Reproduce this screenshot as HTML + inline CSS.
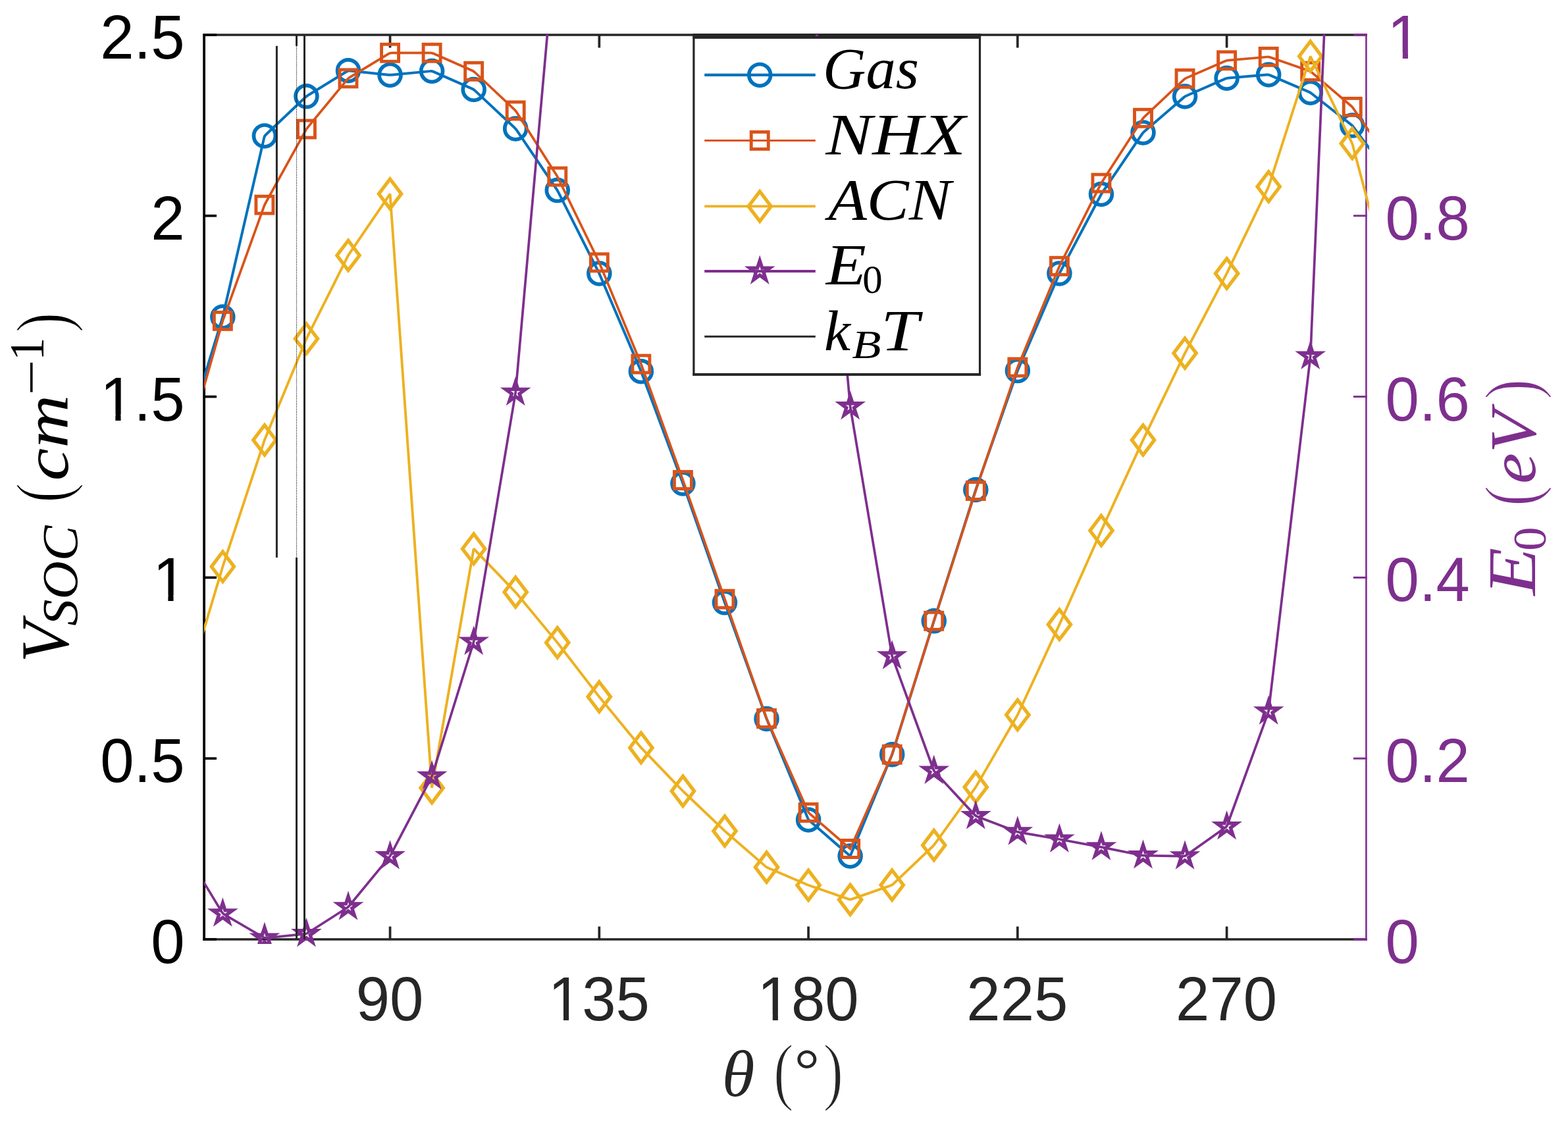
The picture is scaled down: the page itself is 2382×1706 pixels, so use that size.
<!DOCTYPE html>
<html><head><meta charset="utf-8"><title>V_SOC vs theta</title>
<style>
html,body{margin:0;padding:0;background:#fff;}
body{width:2382px;height:1706px;overflow:hidden;}
svg{display:block;}
text{font-family:"Liberation Sans",sans-serif;}
.s{font-family:"Liberation Serif",serif;}
.i{font-family:"Liberation Serif",serif;font-style:italic;}
</style></head><body>
<svg width="2382" height="1706" viewBox="0 0 2382 1706">
<defs><clipPath id="cp"><rect x="309.8" y="51" width="1770.2" height="1390"/></clipPath><clipPath id="cs"><rect x="309.8" y="51" width="1770.2" height="1382.9"/></clipPath></defs>
<rect x="0" y="0" width="2382" height="1706" fill="#fff"/>
<g stroke="#262626" stroke-width="3.70" fill="none">
<line x1="308.20" y1="53.00" x2="2076.70" y2="53.00"/>
<line x1="308.20" y1="1427.00" x2="2076.70" y2="1427.00"/>
<line x1="592.56" y1="1427.00" x2="592.56" y2="1407.50"/>
<line x1="592.56" y1="53.00" x2="592.56" y2="72.50"/>
<line x1="910.32" y1="1427.00" x2="910.32" y2="1407.50"/>
<line x1="910.32" y1="53.00" x2="910.32" y2="72.50"/>
<line x1="1228.08" y1="1427.00" x2="1228.08" y2="1407.50"/>
<line x1="1228.08" y1="53.00" x2="1228.08" y2="72.50"/>
<line x1="1545.84" y1="1427.00" x2="1545.84" y2="1407.50"/>
<line x1="1545.84" y1="53.00" x2="1545.84" y2="72.50"/>
<line x1="1863.61" y1="1427.00" x2="1863.61" y2="1407.50"/>
<line x1="1863.61" y1="53.00" x2="1863.61" y2="72.50"/>
</g>
<g stroke="#000" stroke-width="3.8" fill="none">
<line x1="310.10" y1="51.15" x2="310.10" y2="1428.85"/>
<line x1="310.10" y1="1427.00" x2="329.00" y2="1427.00" stroke-width="3.7"/>
<line x1="310.10" y1="1152.20" x2="329.00" y2="1152.20" stroke-width="3.7"/>
<line x1="310.10" y1="877.40" x2="329.00" y2="877.40" stroke-width="3.7"/>
<line x1="310.10" y1="602.60" x2="329.00" y2="602.60" stroke-width="3.7"/>
<line x1="310.10" y1="327.80" x2="329.00" y2="327.80" stroke-width="3.7"/>
<line x1="310.10" y1="53.00" x2="329.00" y2="53.00" stroke-width="3.7"/>
</g>
<g stroke="#7E2F8E" fill="none">
<line x1="2075.45" y1="51.15" x2="2075.45" y2="1428.85" stroke-width="2.6"/>
<line x1="2056.00" y1="1427.00" x2="2076.70" y2="1427.00" stroke-width="3.7"/>
<line x1="2056.00" y1="1152.20" x2="2076.70" y2="1152.20" stroke-width="3.0"/>
<line x1="2056.00" y1="877.40" x2="2076.70" y2="877.40" stroke-width="3.0"/>
<line x1="2056.00" y1="602.60" x2="2076.70" y2="602.60" stroke-width="3.0"/>
<line x1="2056.00" y1="327.80" x2="2076.70" y2="327.80" stroke-width="3.0"/>
<line x1="2056.00" y1="53.00" x2="2076.70" y2="53.00" stroke-width="3.7"/>
</g>
<g clip-path="url(#cp)">
<path d="M274.79 688.50 L337.61 483.89 Q338.35 481.50 338.91 479.06 L401.34 208.84 Q401.90 206.40 403.71 204.68 L463.63 148.02 Q465.45 146.30 467.58 144.99 L526.87 108.51 Q529.00 107.20 531.49 107.46 L590.07 113.64 Q592.56 113.90 595.04 113.67 L653.62 108.13 Q656.11 107.90 658.40 108.91 L717.37 134.89 Q719.66 135.90 721.49 137.61 L781.39 193.69 Q783.21 195.40 784.62 197.47 L845.36 287.03 Q846.77 289.10 847.89 291.33 L909.20 413.17 Q910.32 415.40 911.30 417.70 L972.89 561.90 Q973.87 564.20 974.75 566.54 L1036.55 732.16 Q1037.42 734.50 1038.25 736.86 L1100.98 915.30 L1163.68 1089.65 Q1164.53 1092.00 1165.49 1094.31 L1227.13 1243.09 Q1228.08 1245.40 1229.97 1247.04 L1291.63 1300.50 L1354.24 1148.51 Q1355.19 1146.20 1355.93 1143.81 L1418.74 943.30 L1481.53 746.38 Q1482.29 744.00 1483.12 741.64 L1545.02 565.46 Q1545.84 563.10 1546.83 560.80 L1608.41 417.70 Q1609.40 415.40 1610.56 413.19 L1671.78 297.21 Q1672.95 295.00 1674.35 292.93 L1735.10 203.47 Q1736.50 201.40 1738.39 199.77 L1798.16 148.13 Q1800.06 146.50 1802.35 145.50 L1861.32 119.70 Q1863.61 118.70 1866.10 118.49 L1924.67 113.61 Q1927.16 113.40 1929.46 114.39 L1988.42 139.71 Q1990.71 140.70 1992.68 142.24 L2052.30 189.06 Q2054.27 190.60 2055.76 192.60 L2117.82 275.60" fill="none" stroke="#0072BD" stroke-width="4.00" stroke-linejoin="miter" stroke-miterlimit="2"/>
<circle cx="338.35" cy="481.50" r="16.4" fill="none" stroke="#0072BD" stroke-width="5.70"/>
<circle cx="401.90" cy="206.40" r="16.4" fill="none" stroke="#0072BD" stroke-width="5.70"/>
<circle cx="465.45" cy="146.30" r="16.4" fill="none" stroke="#0072BD" stroke-width="5.70"/>
<circle cx="529.00" cy="107.20" r="16.4" fill="none" stroke="#0072BD" stroke-width="5.70"/>
<circle cx="592.56" cy="113.90" r="16.4" fill="none" stroke="#0072BD" stroke-width="5.70"/>
<circle cx="656.11" cy="107.90" r="16.4" fill="none" stroke="#0072BD" stroke-width="5.70"/>
<circle cx="719.66" cy="135.90" r="16.4" fill="none" stroke="#0072BD" stroke-width="5.70"/>
<circle cx="783.21" cy="195.40" r="16.4" fill="none" stroke="#0072BD" stroke-width="5.70"/>
<circle cx="846.77" cy="289.10" r="16.4" fill="none" stroke="#0072BD" stroke-width="5.70"/>
<circle cx="910.32" cy="415.40" r="16.4" fill="none" stroke="#0072BD" stroke-width="5.70"/>
<circle cx="973.87" cy="564.20" r="16.4" fill="none" stroke="#0072BD" stroke-width="5.70"/>
<circle cx="1037.42" cy="734.50" r="16.4" fill="none" stroke="#0072BD" stroke-width="5.70"/>
<circle cx="1100.98" cy="915.30" r="16.4" fill="none" stroke="#0072BD" stroke-width="5.70"/>
<circle cx="1164.53" cy="1092.00" r="16.4" fill="none" stroke="#0072BD" stroke-width="5.70"/>
<circle cx="1228.08" cy="1245.40" r="16.4" fill="none" stroke="#0072BD" stroke-width="5.70"/>
<circle cx="1291.63" cy="1300.50" r="16.4" fill="none" stroke="#0072BD" stroke-width="5.70"/>
<circle cx="1355.19" cy="1146.20" r="16.4" fill="none" stroke="#0072BD" stroke-width="5.70"/>
<circle cx="1418.74" cy="943.30" r="16.4" fill="none" stroke="#0072BD" stroke-width="5.70"/>
<circle cx="1482.29" cy="744.00" r="16.4" fill="none" stroke="#0072BD" stroke-width="5.70"/>
<circle cx="1545.84" cy="563.10" r="16.4" fill="none" stroke="#0072BD" stroke-width="5.70"/>
<circle cx="1609.40" cy="415.40" r="16.4" fill="none" stroke="#0072BD" stroke-width="5.70"/>
<circle cx="1672.95" cy="295.00" r="16.4" fill="none" stroke="#0072BD" stroke-width="5.70"/>
<circle cx="1736.50" cy="201.40" r="16.4" fill="none" stroke="#0072BD" stroke-width="5.70"/>
<circle cx="1800.06" cy="146.50" r="16.4" fill="none" stroke="#0072BD" stroke-width="5.70"/>
<circle cx="1863.61" cy="118.70" r="16.4" fill="none" stroke="#0072BD" stroke-width="5.70"/>
<circle cx="1927.16" cy="113.40" r="16.4" fill="none" stroke="#0072BD" stroke-width="5.70"/>
<circle cx="1990.71" cy="140.70" r="16.4" fill="none" stroke="#0072BD" stroke-width="5.70"/>
<circle cx="2054.27" cy="190.60" r="16.4" fill="none" stroke="#0072BD" stroke-width="5.70"/>
<path d="M274.79 710.80 L337.66 489.80 Q338.35 487.40 339.19 485.05 L401.05 313.55 Q401.90 311.20 403.11 309.01 L464.24 198.29 Q465.45 196.10 467.04 194.17 L527.41 120.83 Q529.00 118.90 531.14 117.60 L590.42 81.60 Q592.56 80.30 595.06 80.30 L653.61 80.30 Q656.11 80.30 658.40 81.31 L717.37 107.29 Q719.66 108.30 721.48 110.01 L781.39 166.29 Q783.21 168.00 784.55 170.11 L845.43 266.09 Q846.77 268.20 847.86 270.45 L909.23 396.55 Q910.32 398.80 911.27 401.11 L972.92 550.79 Q973.87 553.10 974.72 555.45 L1037.42 729.50 L1100.98 910.20 L1163.70 1089.14 Q1164.53 1091.50 1165.55 1093.78 L1227.07 1232.12 Q1228.08 1234.40 1229.97 1236.04 L1291.63 1289.50 L1354.17 1148.49 Q1355.19 1146.20 1355.93 1143.81 L1418.74 943.30 L1482.29 745.50 L1545.04 560.37 Q1545.84 558.00 1546.80 555.69 L1608.44 406.61 Q1609.40 404.30 1610.52 402.07 L1671.83 280.33 Q1672.95 278.10 1674.30 276.00 L1735.15 181.40 Q1736.50 179.30 1738.32 177.59 L1798.24 121.11 Q1800.06 119.40 1802.35 118.40 L1861.31 92.80 Q1863.61 91.80 1866.10 91.58 L1924.67 86.52 Q1927.16 86.30 1929.52 87.12 L1988.35 107.48 Q1990.71 108.30 1992.62 109.92 L2052.36 160.78 Q2054.27 162.40 2055.69 164.45 L2117.82 254.00" fill="none" stroke="#D95319" stroke-width="3.70" stroke-linejoin="miter" stroke-miterlimit="2"/>
<rect x="325.35" y="474.40" width="26.00" height="26.00" fill="none" stroke="#D95319" stroke-width="4.90"/>
<rect x="388.90" y="298.20" width="26.00" height="26.00" fill="none" stroke="#D95319" stroke-width="4.90"/>
<rect x="452.45" y="183.10" width="26.00" height="26.00" fill="none" stroke="#D95319" stroke-width="4.90"/>
<rect x="516.00" y="105.90" width="26.00" height="26.00" fill="none" stroke="#D95319" stroke-width="4.90"/>
<rect x="579.56" y="67.30" width="26.00" height="26.00" fill="none" stroke="#D95319" stroke-width="4.90"/>
<rect x="643.11" y="67.30" width="26.00" height="26.00" fill="none" stroke="#D95319" stroke-width="4.90"/>
<rect x="706.66" y="95.30" width="26.00" height="26.00" fill="none" stroke="#D95319" stroke-width="4.90"/>
<rect x="770.21" y="155.00" width="26.00" height="26.00" fill="none" stroke="#D95319" stroke-width="4.90"/>
<rect x="833.77" y="255.20" width="26.00" height="26.00" fill="none" stroke="#D95319" stroke-width="4.90"/>
<rect x="897.32" y="385.80" width="26.00" height="26.00" fill="none" stroke="#D95319" stroke-width="4.90"/>
<rect x="960.87" y="540.10" width="26.00" height="26.00" fill="none" stroke="#D95319" stroke-width="4.90"/>
<rect x="1024.42" y="716.50" width="26.00" height="26.00" fill="none" stroke="#D95319" stroke-width="4.90"/>
<rect x="1087.98" y="897.20" width="26.00" height="26.00" fill="none" stroke="#D95319" stroke-width="4.90"/>
<rect x="1151.53" y="1078.50" width="26.00" height="26.00" fill="none" stroke="#D95319" stroke-width="4.90"/>
<rect x="1215.08" y="1221.40" width="26.00" height="26.00" fill="none" stroke="#D95319" stroke-width="4.90"/>
<rect x="1278.63" y="1276.50" width="26.00" height="26.00" fill="none" stroke="#D95319" stroke-width="4.90"/>
<rect x="1342.19" y="1133.20" width="26.00" height="26.00" fill="none" stroke="#D95319" stroke-width="4.90"/>
<rect x="1405.74" y="930.30" width="26.00" height="26.00" fill="none" stroke="#D95319" stroke-width="4.90"/>
<rect x="1469.29" y="732.50" width="26.00" height="26.00" fill="none" stroke="#D95319" stroke-width="4.90"/>
<rect x="1532.84" y="545.00" width="26.00" height="26.00" fill="none" stroke="#D95319" stroke-width="4.90"/>
<rect x="1596.40" y="391.30" width="26.00" height="26.00" fill="none" stroke="#D95319" stroke-width="4.90"/>
<rect x="1659.95" y="265.10" width="26.00" height="26.00" fill="none" stroke="#D95319" stroke-width="4.90"/>
<rect x="1723.50" y="166.30" width="26.00" height="26.00" fill="none" stroke="#D95319" stroke-width="4.90"/>
<rect x="1787.06" y="106.40" width="26.00" height="26.00" fill="none" stroke="#D95319" stroke-width="4.90"/>
<rect x="1850.61" y="78.80" width="26.00" height="26.00" fill="none" stroke="#D95319" stroke-width="4.90"/>
<rect x="1914.16" y="73.30" width="26.00" height="26.00" fill="none" stroke="#D95319" stroke-width="4.90"/>
<rect x="1977.71" y="95.30" width="26.00" height="26.00" fill="none" stroke="#D95319" stroke-width="4.90"/>
<rect x="2041.27" y="149.40" width="26.00" height="26.00" fill="none" stroke="#D95319" stroke-width="4.90"/>
<path d="M274.79 1073.80 L337.63 863.20 Q338.35 860.80 339.13 858.43 L401.11 670.77 Q401.90 668.40 402.85 666.09 L464.50 516.91 Q465.45 514.60 466.57 512.37 L527.88 390.23 Q529.00 388.00 530.41 385.93 L592.56 294.60 L656.11 1196.90 L719.66 833.70 L781.48 897.80 Q783.21 899.60 784.81 901.53 L845.17 974.37 Q846.77 976.30 848.29 978.28 L908.79 1056.62 Q910.32 1058.60 911.91 1060.53 L972.28 1133.97 Q973.87 1135.90 975.61 1137.70 L1035.69 1200.00 Q1037.42 1201.80 1039.23 1203.53 L1099.17 1260.67 Q1100.98 1262.40 1102.87 1264.04 L1162.64 1315.86 Q1164.53 1317.50 1166.83 1318.48 L1225.78 1343.72 Q1228.08 1344.70 1230.44 1345.52 L1289.27 1365.88 Q1291.63 1366.70 1294.00 1365.88 L1352.83 1345.42 Q1355.19 1344.60 1357.00 1342.87 L1416.93 1285.73 Q1418.74 1284.00 1420.20 1281.97 L1480.83 1197.83 Q1482.29 1195.80 1483.54 1193.64 L1544.59 1088.16 Q1545.84 1086.00 1546.90 1083.73 L1609.40 948.80 L1672.95 806.10 L1736.50 668.40 L1798.97 538.85 Q1800.06 536.60 1801.22 534.39 L1862.45 417.61 Q1863.61 415.40 1864.69 413.15 L1926.07 285.85 Q1927.16 283.60 1927.92 281.22 L1990.71 85.60 L2053.18 215.85 Q2054.27 218.10 2054.91 220.52 L2117.82 457.00" fill="none" stroke="#EDB120" stroke-width="3.90" stroke-linejoin="miter" stroke-miterlimit="2"/>
<path d="M338.35 838.20L355.50 860.80L338.35 883.40L321.20 860.80Z" fill="none" stroke="#EDB120" stroke-width="5.30" stroke-miterlimit="10"/>
<path d="M401.90 645.80L419.05 668.40L401.90 691.00L384.75 668.40Z" fill="none" stroke="#EDB120" stroke-width="5.30" stroke-miterlimit="10"/>
<path d="M465.45 492.00L482.60 514.60L465.45 537.20L448.30 514.60Z" fill="none" stroke="#EDB120" stroke-width="5.30" stroke-miterlimit="10"/>
<path d="M529.00 365.40L546.15 388.00L529.00 410.60L511.85 388.00Z" fill="none" stroke="#EDB120" stroke-width="5.30" stroke-miterlimit="10"/>
<path d="M592.56 272.00L609.71 294.60L592.56 317.20L575.41 294.60Z" fill="none" stroke="#EDB120" stroke-width="5.30" stroke-miterlimit="10"/>
<path d="M656.11 1174.30L673.26 1196.90L656.11 1219.50L638.96 1196.90Z" fill="none" stroke="#EDB120" stroke-width="5.30" stroke-miterlimit="10"/>
<path d="M719.66 811.10L736.81 833.70L719.66 856.30L702.51 833.70Z" fill="none" stroke="#EDB120" stroke-width="5.30" stroke-miterlimit="10"/>
<path d="M783.21 877.00L800.36 899.60L783.21 922.20L766.06 899.60Z" fill="none" stroke="#EDB120" stroke-width="5.30" stroke-miterlimit="10"/>
<path d="M846.77 953.70L863.92 976.30L846.77 998.90L829.62 976.30Z" fill="none" stroke="#EDB120" stroke-width="5.30" stroke-miterlimit="10"/>
<path d="M910.32 1036.00L927.47 1058.60L910.32 1081.20L893.17 1058.60Z" fill="none" stroke="#EDB120" stroke-width="5.30" stroke-miterlimit="10"/>
<path d="M973.87 1113.30L991.02 1135.90L973.87 1158.50L956.72 1135.90Z" fill="none" stroke="#EDB120" stroke-width="5.30" stroke-miterlimit="10"/>
<path d="M1037.42 1179.20L1054.57 1201.80L1037.42 1224.40L1020.27 1201.80Z" fill="none" stroke="#EDB120" stroke-width="5.30" stroke-miterlimit="10"/>
<path d="M1100.98 1239.80L1118.13 1262.40L1100.98 1285.00L1083.83 1262.40Z" fill="none" stroke="#EDB120" stroke-width="5.30" stroke-miterlimit="10"/>
<path d="M1164.53 1294.90L1181.68 1317.50L1164.53 1340.10L1147.38 1317.50Z" fill="none" stroke="#EDB120" stroke-width="5.30" stroke-miterlimit="10"/>
<path d="M1228.08 1322.10L1245.23 1344.70L1228.08 1367.30L1210.93 1344.70Z" fill="none" stroke="#EDB120" stroke-width="5.30" stroke-miterlimit="10"/>
<path d="M1291.63 1344.10L1308.78 1366.70L1291.63 1389.30L1274.48 1366.70Z" fill="none" stroke="#EDB120" stroke-width="5.30" stroke-miterlimit="10"/>
<path d="M1355.19 1322.00L1372.34 1344.60L1355.19 1367.20L1338.04 1344.60Z" fill="none" stroke="#EDB120" stroke-width="5.30" stroke-miterlimit="10"/>
<path d="M1418.74 1261.40L1435.89 1284.00L1418.74 1306.60L1401.59 1284.00Z" fill="none" stroke="#EDB120" stroke-width="5.30" stroke-miterlimit="10"/>
<path d="M1482.29 1173.20L1499.44 1195.80L1482.29 1218.40L1465.14 1195.80Z" fill="none" stroke="#EDB120" stroke-width="5.30" stroke-miterlimit="10"/>
<path d="M1545.84 1063.40L1562.99 1086.00L1545.84 1108.60L1528.69 1086.00Z" fill="none" stroke="#EDB120" stroke-width="5.30" stroke-miterlimit="10"/>
<path d="M1609.40 926.20L1626.55 948.80L1609.40 971.40L1592.25 948.80Z" fill="none" stroke="#EDB120" stroke-width="5.30" stroke-miterlimit="10"/>
<path d="M1672.95 783.50L1690.10 806.10L1672.95 828.70L1655.80 806.10Z" fill="none" stroke="#EDB120" stroke-width="5.30" stroke-miterlimit="10"/>
<path d="M1736.50 645.80L1753.65 668.40L1736.50 691.00L1719.35 668.40Z" fill="none" stroke="#EDB120" stroke-width="5.30" stroke-miterlimit="10"/>
<path d="M1800.06 514.00L1817.21 536.60L1800.06 559.20L1782.91 536.60Z" fill="none" stroke="#EDB120" stroke-width="5.30" stroke-miterlimit="10"/>
<path d="M1863.61 392.80L1880.76 415.40L1863.61 438.00L1846.46 415.40Z" fill="none" stroke="#EDB120" stroke-width="5.30" stroke-miterlimit="10"/>
<path d="M1927.16 261.00L1944.31 283.60L1927.16 306.20L1910.01 283.60Z" fill="none" stroke="#EDB120" stroke-width="5.30" stroke-miterlimit="10"/>
<path d="M1990.71 63.00L2007.86 85.60L1990.71 108.20L1973.56 85.60Z" fill="none" stroke="#EDB120" stroke-width="5.30" stroke-miterlimit="10"/>
<path d="M2054.27 195.50L2071.42 218.10L2054.27 240.70L2037.12 218.10Z" fill="none" stroke="#EDB120" stroke-width="5.30" stroke-miterlimit="10"/>
<path d="M274.79 1282.60 L337.05 1385.66 Q338.35 1387.80 340.50 1389.06 L399.74 1423.74 Q401.90 1425.00 404.39 1424.75 L462.96 1418.85 Q465.45 1418.60 467.56 1417.25 L526.90 1379.25 Q529.00 1377.90 530.59 1375.97 L590.97 1302.63 Q592.56 1300.70 593.72 1298.49 L654.95 1181.61 Q656.11 1179.40 656.85 1177.01 L718.92 977.39 Q719.66 975.00 720.07 972.53 L782.80 598.77 Q783.21 596.30 783.43 593.81 L846.55 -117.51 Q846.77 -120.00 847.32 -122.44 L909.77 -397.56 Q910.32 -400.00 911.08 -402.38 L973.11 -597.62 Q973.87 -600.00 975.21 -602.11 L1037.42 -700.00 L1099.64 -602.11 Q1100.98 -600.00 1101.73 -597.62 L1163.77 -402.38 Q1164.53 -400.00 1165.03 -397.55 L1227.58 -93.45 Q1228.08 -91.00 1228.31 -88.51 L1291.41 615.21 Q1291.63 617.70 1292.05 620.17 L1354.77 994.33 Q1355.19 996.80 1356.04 999.15 L1417.88 1168.75 Q1418.74 1171.10 1420.44 1172.93 L1480.59 1237.87 Q1482.29 1239.70 1484.63 1240.59 L1543.51 1263.01 Q1545.84 1263.90 1548.31 1264.33 L1609.40 1275.00 L1672.95 1286.90 L1734.05 1299.21 Q1736.50 1299.70 1739.00 1299.74 L1797.56 1300.76 Q1800.06 1300.80 1802.09 1299.35 L1861.57 1257.05 Q1863.61 1255.60 1864.46 1253.25 L1926.31 1083.15 Q1927.16 1080.80 1927.45 1078.32 L1990.42 543.68 Q1990.71 541.20 1990.82 538.70 L2054.16 -945.50 Q2054.27 -948.00 2054.55 -950.48 L2117.82 -1500.00" fill="none" stroke="#7E2F8E" stroke-width="3.70" stroke-linejoin="miter" stroke-miterlimit="2"/>
<path d="M338.35 1371.80L341.94 1382.86L353.56 1382.86L344.16 1389.69L347.75 1400.74L338.35 1393.91L328.94 1400.74L332.53 1389.69L323.13 1382.86L334.75 1382.86Z" fill="none" stroke="#7E2F8E" stroke-width="5.30" stroke-miterlimit="10"/>
<path d="M401.90 1409.00L405.49 1420.06L417.12 1420.06L407.71 1426.89L411.30 1437.94L401.90 1431.11L392.49 1437.94L396.09 1426.89L386.68 1420.06L398.31 1420.06Z" fill="none" stroke="#7E2F8E" stroke-width="5.30" stroke-miterlimit="10" clip-path="url(#cs)"/>
<path d="M465.45 1402.60L469.04 1413.66L480.67 1413.66L471.26 1420.49L474.86 1431.54L465.45 1424.71L456.05 1431.54L459.64 1420.49L450.23 1413.66L461.86 1413.66Z" fill="none" stroke="#7E2F8E" stroke-width="5.30" stroke-miterlimit="10"/>
<path d="M529.00 1361.90L532.60 1372.96L544.22 1372.96L534.82 1379.79L538.41 1390.84L529.00 1384.01L519.60 1390.84L523.19 1379.79L513.79 1372.96L525.41 1372.96Z" fill="none" stroke="#7E2F8E" stroke-width="5.30" stroke-miterlimit="10"/>
<path d="M592.56 1284.70L596.15 1295.76L607.77 1295.76L598.37 1302.59L601.96 1313.64L592.56 1306.81L583.15 1313.64L586.74 1302.59L577.34 1295.76L588.96 1295.76Z" fill="none" stroke="#7E2F8E" stroke-width="5.30" stroke-miterlimit="10"/>
<path d="M656.11 1163.40L659.70 1174.46L671.33 1174.46L661.92 1181.29L665.51 1192.34L656.11 1185.51L646.70 1192.34L650.30 1181.29L640.89 1174.46L652.52 1174.46Z" fill="none" stroke="#7E2F8E" stroke-width="5.30" stroke-miterlimit="10"/>
<path d="M719.66 959.00L723.25 970.06L734.88 970.06L725.47 976.89L729.07 987.94L719.66 981.11L710.26 987.94L713.85 976.89L704.44 970.06L716.07 970.06Z" fill="none" stroke="#7E2F8E" stroke-width="5.30" stroke-miterlimit="10"/>
<path d="M783.21 580.30L786.81 591.36L798.43 591.36L789.03 598.19L792.62 609.24L783.21 602.41L773.81 609.24L777.40 598.19L768.00 591.36L779.62 591.36Z" fill="none" stroke="#7E2F8E" stroke-width="5.30" stroke-miterlimit="10"/>
<path d="M1291.63 601.70L1295.23 612.76L1306.85 612.76L1297.45 619.59L1301.04 630.64L1291.63 623.81L1282.23 630.64L1285.82 619.59L1276.42 612.76L1288.04 612.76Z" fill="none" stroke="#7E2F8E" stroke-width="5.30" stroke-miterlimit="10"/>
<path d="M1355.19 980.80L1358.78 991.86L1370.40 991.86L1361.00 998.69L1364.59 1009.74L1355.19 1002.91L1345.78 1009.74L1349.37 998.69L1339.97 991.86L1351.59 991.86Z" fill="none" stroke="#7E2F8E" stroke-width="5.30" stroke-miterlimit="10"/>
<path d="M1418.74 1155.10L1422.33 1166.16L1433.96 1166.16L1424.55 1172.99L1428.14 1184.04L1418.74 1177.21L1409.34 1184.04L1412.93 1172.99L1403.52 1166.16L1415.15 1166.16Z" fill="none" stroke="#7E2F8E" stroke-width="5.30" stroke-miterlimit="10"/>
<path d="M1482.29 1223.70L1485.88 1234.76L1497.51 1234.76L1488.10 1241.59L1491.70 1252.64L1482.29 1245.81L1472.89 1252.64L1476.48 1241.59L1467.08 1234.76L1478.70 1234.76Z" fill="none" stroke="#7E2F8E" stroke-width="5.30" stroke-miterlimit="10"/>
<path d="M1545.84 1247.90L1549.44 1258.96L1561.06 1258.96L1551.66 1265.79L1555.25 1276.84L1545.84 1270.01L1536.44 1276.84L1540.03 1265.79L1530.63 1258.96L1542.25 1258.96Z" fill="none" stroke="#7E2F8E" stroke-width="5.30" stroke-miterlimit="10"/>
<path d="M1609.40 1259.00L1612.99 1270.06L1624.61 1270.06L1615.21 1276.89L1618.80 1287.94L1609.40 1281.11L1599.99 1287.94L1603.59 1276.89L1594.18 1270.06L1605.81 1270.06Z" fill="none" stroke="#7E2F8E" stroke-width="5.30" stroke-miterlimit="10"/>
<path d="M1672.95 1270.90L1676.54 1281.96L1688.17 1281.96L1678.76 1288.79L1682.35 1299.84L1672.95 1293.01L1663.55 1299.84L1667.14 1288.79L1657.73 1281.96L1669.36 1281.96Z" fill="none" stroke="#7E2F8E" stroke-width="5.30" stroke-miterlimit="10"/>
<path d="M1736.50 1283.70L1740.10 1294.76L1751.72 1294.76L1742.32 1301.59L1745.91 1312.64L1736.50 1305.81L1727.10 1312.64L1730.69 1301.59L1721.29 1294.76L1732.91 1294.76Z" fill="none" stroke="#7E2F8E" stroke-width="5.30" stroke-miterlimit="10"/>
<path d="M1800.06 1284.80L1803.65 1295.86L1815.27 1295.86L1805.87 1302.69L1809.46 1313.74L1800.06 1306.91L1790.65 1313.74L1794.24 1302.69L1784.84 1295.86L1796.46 1295.86Z" fill="none" stroke="#7E2F8E" stroke-width="5.30" stroke-miterlimit="10"/>
<path d="M1863.61 1239.60L1867.20 1250.66L1878.82 1250.66L1869.42 1257.49L1873.01 1268.54L1863.61 1261.71L1854.20 1268.54L1857.80 1257.49L1848.39 1250.66L1860.02 1250.66Z" fill="none" stroke="#7E2F8E" stroke-width="5.30" stroke-miterlimit="10"/>
<path d="M1927.16 1064.80L1930.75 1075.86L1942.38 1075.86L1932.97 1082.69L1936.57 1093.74L1927.16 1086.91L1917.76 1093.74L1921.35 1082.69L1911.94 1075.86L1923.57 1075.86Z" fill="none" stroke="#7E2F8E" stroke-width="5.30" stroke-miterlimit="10"/>
<path d="M1990.71 525.20L1994.31 536.26L2005.93 536.26L1996.53 543.09L2000.12 554.14L1990.71 547.31L1981.31 554.14L1984.90 543.09L1975.50 536.26L1987.12 536.26Z" fill="none" stroke="#7E2F8E" stroke-width="5.30" stroke-miterlimit="10"/>
</g>
<g stroke="#262626" fill="none">
<line x1="420.4" y1="69.8" x2="420.4" y2="846.9" stroke-width="3"/>
<line x1="450.5" y1="53.00" x2="450.5" y2="69.8" stroke-width="3"/>
<line x1="450.5" y1="69.8" x2="450.5" y2="846.9" stroke-width="1.2" stroke-dasharray="1.2 1.2"/>
<line x1="450.5" y1="846.9" x2="450.5" y2="1427.00" stroke-width="3"/>
<line x1="462.5" y1="53.00" x2="462.5" y2="1427.00" stroke-width="3"/>
</g>
<rect x="1053.90" y="57.00" width="434.60" height="511.60" fill="#fff" stroke="#262626" stroke-width="3.2"/>
<rect x="1052.30" y="51.0" width="437.80" height="7.7" fill="#262626"/>
<rect x="1052.30" y="566.9" width="437.80" height="4.0" fill="#262626"/>
<rect x="1238.9" y="52.2" width="4.2" height="2.9" fill="#7E2F8E"/>
<line x1="1070.20" y1="113.90" x2="1238.80" y2="113.90" stroke="#0072BD" stroke-width="4.3"/>
<circle cx="1154.20" cy="113.90" r="16.4" fill="none" stroke="#0072BD" stroke-width="5.70"/>
<line x1="1070.20" y1="213.50" x2="1238.80" y2="213.50" stroke="#D95319" stroke-width="3.0"/>
<rect x="1141.20" y="200.50" width="26.00" height="26.00" fill="none" stroke="#D95319" stroke-width="4.90"/>
<line x1="1070.20" y1="313.40" x2="1238.80" y2="313.40" stroke="#EDB120" stroke-width="3.8"/>
<path d="M1154.20 290.80L1171.35 313.40L1154.20 336.00L1137.05 313.40Z" fill="none" stroke="#EDB120" stroke-width="5.30" stroke-miterlimit="10"/>
<line x1="1070.20" y1="412.00" x2="1238.80" y2="412.00" stroke="#7E2F8E" stroke-width="3.9"/>
<path d="M1154.20 396.00L1157.79 407.06L1169.42 407.06L1160.01 413.89L1163.60 424.94L1154.20 418.11L1144.80 424.94L1148.39 413.89L1138.98 407.06L1150.61 407.06Z" fill="none" stroke="#7E2F8E" stroke-width="5.30" stroke-miterlimit="10"/>
<line x1="1070.20" y1="511.30" x2="1238.80" y2="511.30" stroke="#262626" stroke-width="3.0"/>
<defs><clipPath id="c0"><path clip-rule="evenodd" d="M-400 -150H400V60H-400ZM-47.14 -9.03H-28.95V3.00H-47.14ZM-20.56 -9.03H-3.44V3.00H-20.56Z"/></clipPath><clipPath id="c1"><path clip-rule="evenodd" d="M-400 -150H400V60H-400ZM-126.37 -9.03H-108.18V3.00H-126.37ZM-99.79 -9.03H-82.67V3.00H-99.79Z"/></clipPath><clipPath id="c2"><path clip-rule="evenodd" d="M-400 -150H400V60H-400ZM-73.56 -9.03H-55.37V3.00H-73.56ZM-46.98 -9.03H-29.86V3.00H-46.98Z"/></clipPath><clipPath id="c3"><path clip-rule="evenodd" d="M-400 -150H400V60H-400ZM-73.56 -9.03H-55.37V3.00H-73.56ZM-46.98 -9.03H-29.86V3.00H-46.98Z"/></clipPath><clipPath id="c4"><path clip-rule="evenodd" d="M-400 -150H400V60H-400ZM5.70 -9.03H23.89V3.00H5.70ZM32.28 -9.03H49.40V3.00H32.28Z"/></clipPath></defs>
<text transform="translate(280.50 1463.00) scale(0.972 1)" font-size="95.0" text-anchor="end" fill="#000">0</text>
<text transform="translate(280.50 1188.20) scale(0.972 1)" font-size="95.0" text-anchor="end" fill="#000">0.5</text>
<g transform="translate(283.50 913.40) scale(0.972 1)"><text clip-path="url(#c0)" font-size="95.0" text-anchor="end" fill="#000">1</text></g>
<g transform="translate(280.50 638.60) scale(0.972 1)"><text clip-path="url(#c1)" font-size="95.0" text-anchor="end" fill="#000">1.5</text></g>
<text transform="translate(280.50 363.80) scale(0.972 1)" font-size="95.0" text-anchor="end" fill="#000">2</text>
<text transform="translate(280.50 89.00) scale(0.972 1)" font-size="95.0" text-anchor="end" fill="#000">2.5</text>
<text transform="translate(592.06 1550.20) scale(0.972 1)" font-size="95.0" text-anchor="middle" fill="#262626">90</text>
<g transform="translate(909.82 1550.20) scale(0.972 1)"><text clip-path="url(#c2)" font-size="95.0" text-anchor="middle" fill="#262626">135</text></g>
<g transform="translate(1227.58 1550.20) scale(0.972 1)"><text clip-path="url(#c3)" font-size="95.0" text-anchor="middle" fill="#262626">180</text></g>
<text transform="translate(1545.34 1550.20) scale(0.972 1)" font-size="95.0" text-anchor="middle" fill="#262626">225</text>
<text transform="translate(1863.11 1550.20) scale(0.972 1)" font-size="95.0" text-anchor="middle" fill="#262626">270</text>
<text transform="translate(2104.60 1463.00) scale(0.972 1)" font-size="95.0" text-anchor="start" fill="#7E2F8E">0</text>
<text transform="translate(2104.60 1188.20) scale(0.972 1)" font-size="95.0" text-anchor="start" fill="#7E2F8E">0.2</text>
<text transform="translate(2104.60 913.40) scale(0.972 1)" font-size="95.0" text-anchor="start" fill="#7E2F8E">0.4</text>
<text transform="translate(2104.60 638.60) scale(0.972 1)" font-size="95.0" text-anchor="start" fill="#7E2F8E">0.6</text>
<text transform="translate(2104.60 363.80) scale(0.972 1)" font-size="95.0" text-anchor="start" fill="#7E2F8E">0.8</text>
<g transform="translate(2107.60 89.00) scale(0.972 1)"><text clip-path="url(#c4)" font-size="95.0" text-anchor="start" fill="#7E2F8E">1</text></g>
<text transform="translate(0.00 133.90)" fill="#000"><tspan class="i" font-size="89.5" x="1250.02" y="0.00" textLength="145.92" lengthAdjust="spacingAndGlyphs">Gas</tspan></text>
<text transform="translate(0.00 234.10)" fill="#000"><tspan class="i" font-size="89.5" x="1254.33" y="0.00" textLength="212.48" lengthAdjust="spacingAndGlyphs">NHX</tspan></text>
<text transform="translate(0.00 332.80)" fill="#000"><tspan class="i" font-size="89.5" x="1258.28" y="0.00" textLength="186.59" lengthAdjust="spacingAndGlyphs">ACN</tspan></text>
<text transform="translate(0.00 431.50)" fill="#000"><tspan class="i" font-size="89.5" x="1254.80" y="0.00" textLength="60.98" lengthAdjust="spacingAndGlyphs">E</tspan><tspan class="s" font-size="60.5" x="1310.27" y="13.80" textLength="30.36" lengthAdjust="spacingAndGlyphs">0</tspan></text>
<text transform="translate(0.00 532.10)" fill="#000"><tspan class="i" font-size="86.8" x="1252.00" y="0.00" textLength="39.95" lengthAdjust="spacingAndGlyphs">k</tspan><tspan class="i" font-size="61.0" x="1294.28" y="11.80" textLength="44.23" lengthAdjust="spacingAndGlyphs">B</tspan><tspan class="i" font-size="89.5" x="1338.36" y="0.00" textLength="57.64" lengthAdjust="spacingAndGlyphs">T</tspan></text>
<text transform="translate(102.50 1000.80) rotate(-90)" fill="#000"><tspan class="i" font-size="104.0" x="-5.55" y="0.00" textLength="61.65" lengthAdjust="spacingAndGlyphs">V</tspan><tspan class="i" font-size="77.0" x="49.99" y="14.70" textLength="152.34" lengthAdjust="spacingAndGlyphs">SOC</tspan><tspan class="s" font-size="114.0" x="237.02" y="0.50" textLength="30.17" lengthAdjust="spacingAndGlyphs" stroke="#fff" stroke-width="2.2">(</tspan><tspan class="i" font-size="95.0" x="270.34" y="0.00" textLength="130.76" lengthAdjust="spacingAndGlyphs">cm</tspan><tspan class="s" font-size="73.0" x="400.09" y="-30.70" textLength="54.22" lengthAdjust="spacingAndGlyphs">−</tspan><tspan class="s" font-size="73.6" x="453.10" y="-36.40" textLength="35.00" lengthAdjust="spacingAndGlyphs">1</tspan><tspan class="s" font-size="114.0" x="495.32" y="0.50" textLength="30.87" lengthAdjust="spacingAndGlyphs" stroke="#fff" stroke-width="2.2">)</tspan></text>
<text transform="translate(2332.00 905.80) rotate(-90)" fill="#7E2F8E"><tspan class="i" font-size="103.2" x="1.19" y="0.00" textLength="72.70" lengthAdjust="spacingAndGlyphs">E</tspan><tspan class="s" font-size="72.1" x="69.10" y="15.90" textLength="36.19" lengthAdjust="spacingAndGlyphs">0</tspan><tspan class="s" font-size="114.0" x="136.51" y="2.00" textLength="31.74" lengthAdjust="spacingAndGlyphs" stroke="#fff" stroke-width="2.2">(</tspan><tspan class="i" font-size="100.0" x="170.82" y="0.00" textLength="111.68" lengthAdjust="spacingAndGlyphs">eV</tspan><tspan class="s" font-size="114.0" x="298.70" y="2.00" textLength="31.13" lengthAdjust="spacingAndGlyphs" stroke="#fff" stroke-width="2.2">)</tspan></text>
<text transform="translate(0.00 1664.70)" fill="#262626"><tspan class="i" font-size="99.3" x="1096.84" y="0.00" textLength="49.71" lengthAdjust="spacingAndGlyphs">θ</tspan><tspan class="s" font-size="114.0" x="1174.80" y="0.60" textLength="31.08" lengthAdjust="spacingAndGlyphs" stroke="#fff" stroke-width="2.2">(</tspan><tspan class="s" font-size="92.0" x="1206.82" y="-8.60" textLength="38.26" lengthAdjust="spacingAndGlyphs">°</tspan><tspan class="s" font-size="114.0" x="1250.31" y="0.60" textLength="31.00" lengthAdjust="spacingAndGlyphs" stroke="#fff" stroke-width="2.2">)</tspan></text>
</svg>
</body></html>
